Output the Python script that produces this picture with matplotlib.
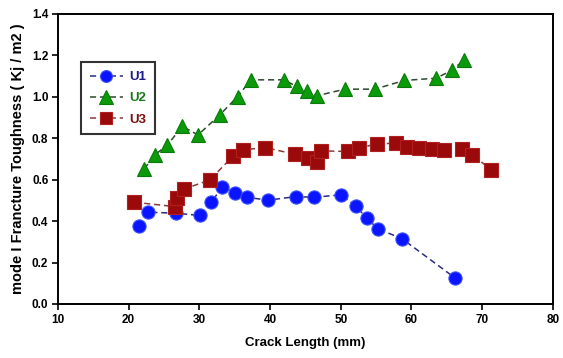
import matplotlib
matplotlib.use("Agg")
import matplotlib.pyplot as plt

u1_x = [21.4, 22.7, 26.7, 30.1, 31.7, 33.2, 35.1, 36.7, 39.7, 43.6, 46.2, 50.1, 52.1, 53.7, 55.2, 58.7, 66.1]
u1_y = [0.378, 0.443, 0.438, 0.427, 0.491, 0.564, 0.538, 0.515, 0.501, 0.518, 0.515, 0.527, 0.473, 0.414, 0.364, 0.314, 0.127]

u2_x = [22.2, 23.7, 25.4, 27.6, 29.8, 32.9, 35.4, 37.3, 41.9, 43.8, 45.2, 46.6, 50.6, 54.8, 59.0, 63.5, 65.8, 67.5]
u2_y = [0.652, 0.72, 0.765, 0.857, 0.816, 0.913, 1.001, 1.082, 1.082, 1.05, 1.03, 1.005, 1.037, 1.037, 1.079, 1.09, 1.13, 1.18]

u3_x = [20.8, 26.5, 26.9, 27.8, 31.5, 34.7, 36.2, 39.3, 43.5, 45.3, 46.7, 47.2, 51.0, 52.6, 55.1, 57.8, 59.3, 61.1, 62.9, 64.6, 67.1, 68.6, 71.3]
u3_y = [0.491, 0.47, 0.51, 0.554, 0.599, 0.712, 0.744, 0.755, 0.723, 0.704, 0.686, 0.739, 0.736, 0.752, 0.773, 0.776, 0.76, 0.755, 0.749, 0.744, 0.749, 0.72, 0.647]

x_ticks = [10, 20, 30, 40, 50, 60, 70, 80]
y_ticks = [0.0, 0.2, 0.4, 0.6, 0.8, 1.0, 1.2, 1.4]

plt.rcParams['font.family'] = ['Liberation Sans', 'DejaVu Sans']
plt.rcParams['font.weight'] = 'bold'

fig = plt.figure(figsize=(5.63, 3.58), dpi=100)
ax = fig.add_axes([0.103, 0.151, 0.879, 0.810])

ax.plot(u1_x, u1_y, linestyle=(0, (4, 2.5)), color='#2b2b80', lw=1.1,
        marker='o', ms=9.5, mfc='#0a14ff', mec='#3a50ff', mew=0.8, label='U1')
ax.plot(u2_x, u2_y, linestyle=(0, (4, 2.5)), color='#2e4a2e', lw=1.1,
        marker='^', ms=10.5, mfc='#0a9a0a', mec='#0a7a0a', mew=0.8, label='U2')
ax.plot(u3_x, u3_y, linestyle=(0, (4, 2.5)), color='#8a3a3a', lw=1.1,
        marker='s', ms=9.5, mfc='#9a0a0a', mec='#b02020', mew=0.8, label='U3')

ax.set_xlim(10, 80)
ax.set_ylim(0, 1.4)
ax.set_xticks(x_ticks)
ax.set_yticks(y_ticks)
ax.set_xticklabels([str(t) for t in x_ticks], fontsize=8.5, fontweight='bold')
ax.set_yticklabels([f"{t:.1f}" for t in y_ticks], fontsize=8.5, fontweight='bold')
ax.tick_params(direction='out', length=4, width=1.2, pad=3)
for s in ax.spines.values():
    s.set_linewidth(1.4)

ax.set_xlabel('Crack Length (mm)', fontsize=9.5, fontweight='bold', labelpad=8)
ax.set_ylabel('mode I Francture Toughness ( Kj / m2 )', fontsize=10.5, fontweight='bold', labelpad=5)

leg = ax.legend(loc='upper left', bbox_to_anchor=(0.047, 0.833), borderaxespad=0,
                fontsize=9.5, frameon=True, fancybox=False, edgecolor='black',
                handlelength=2.5, borderpad=0.65, labelspacing=0.68,
                handletextpad=0.5, markerscale=0.9)
leg.get_frame().set_linewidth(1.5)
for t, c in zip(leg.get_texts(), ['#1a1a8a', '#1a7a1a', '#7a1010']):
    t.set_color(c)
    t.set_fontweight('bold')

fig.savefig('out.png', dpi=100)
